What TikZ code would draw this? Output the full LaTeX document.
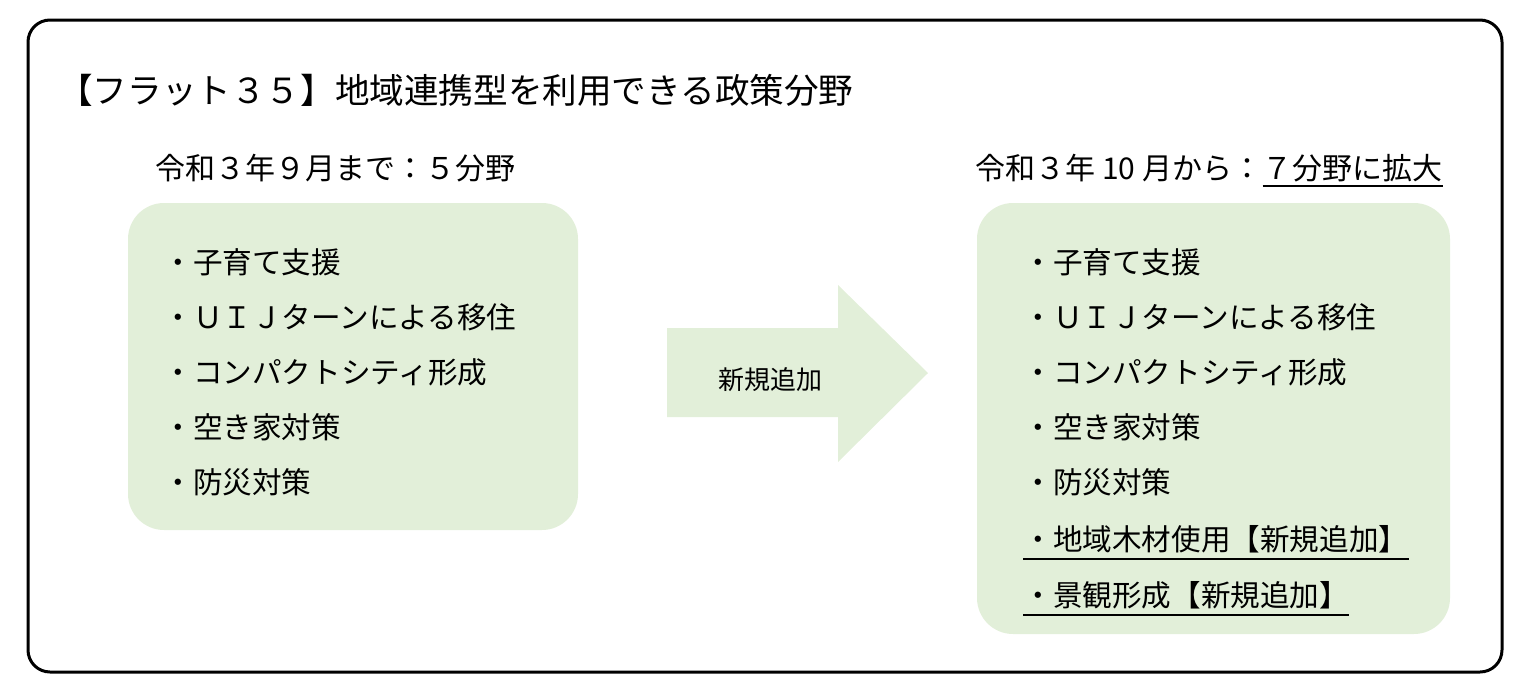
\documentclass[tikz,border=0pt]{standalone}
\usepackage{fontspec}
\setmainfont{Noto Sans CJK JP}
\begin{document}
\begin{tikzpicture}[x=0.5pt,y=-0.5pt,
  grn/.style={fill=boxg,draw=none,rounded corners=18pt},
  item/.style={anchor=west,inner sep=0pt,font=\fontsize{14.8pt}{16pt}\selectfont},
  lbl/.style={anchor=west,inner sep=0pt,font=\fontsize{15pt}{16pt}\selectfont}]
\definecolor{boxg}{HTML}{E2EFD9}
\useasboundingbox (0,0) rectangle (1527,691);
\draw[line width=1.5pt,rounded corners=11pt] (28,20) rectangle (1502,672);
\node[anchor=west,inner sep=0pt,font=\fontsize{17.3pt}{19pt}\selectfont] (title) at (58,90) {【フラット３５】地域連携型を利用できる政策分野};
\node[lbl] (ll) at (155,168) {令和３年９月まで：５分野};
\node[lbl] (rl) at (975,168) {令和３年 10 月から：};
\node[lbl] (rl2) at (rl.east) {７分野に拡大};
\draw[line width=0.8pt] ([yshift=-2pt]rl2.south west) -- ([yshift=-2pt]rl2.south east);
\fill[grn] (128,203) rectangle (578,530);
\fill[grn] (977,203) rectangle (1450,634);
\foreach \t [count=\i] in {・子育て支援,・ＵＩＪターンによる移住,・コンパクトシティ形成,・空き家対策,・防災対策}{
  \node[item] (l\i) at (163,207+55*\i) {\t};
  \node[item] (r\i) at (1023,207+55*\i) {\t};
}
\node[item] (r6) at (1023,539) {・地域木材使用【新規追加】};
\node[item] (r7) at (1023,595) {・景観形成【新規追加】};
\draw[line width=0.8pt] ([yshift=-3pt]r6.south west) -- ([yshift=-3pt]r6.south east);
\draw[line width=0.8pt] ([yshift=-3pt]r7.south west) -- ([yshift=-3pt]r7.south east);
\fill[boxg] (667,328) -- (838,328) -- (838,285) -- (928,373) -- (838,462) -- (838,417) -- (667,417) -- cycle;
\node[inner sep=0pt,font=\fontsize{13pt}{14pt}\selectfont] (arr) at (770,380) {新規追加};
\end{tikzpicture}
\end{document}
